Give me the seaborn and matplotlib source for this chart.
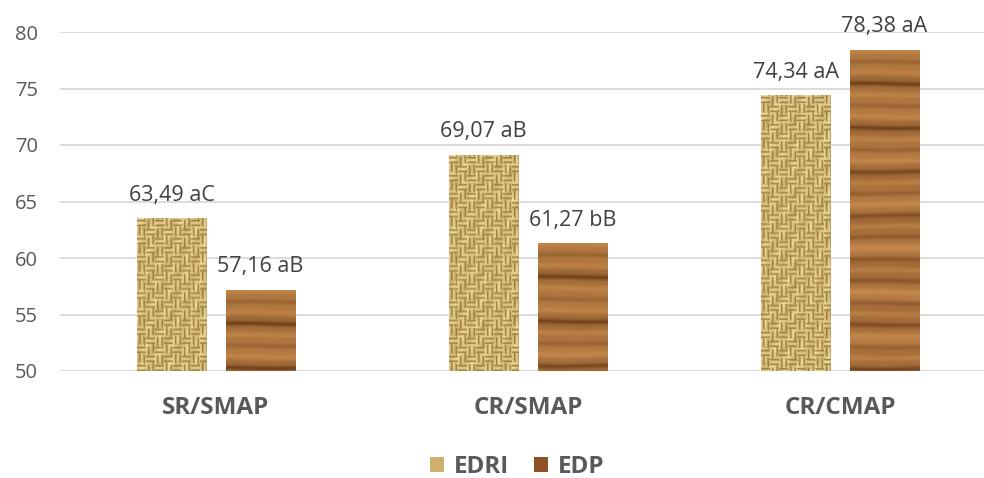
import numpy as np
import pandas as pd
import matplotlib
matplotlib.use("Agg")
import matplotlib.pyplot as plt
import seaborn as sns
from matplotlib.patches import Patch

# Data
categories = ["SR/SMAP", "CR/SMAP", "CR/CMAP"]
series = ["EDRI", "EDP"]
edri_values = [63.49, 69.07, 74.34]
edp_values = [57.16, 61.27, 78.38]
edri_labels = ["63,49 aC", "69,07 aB", "74,34 aA"]
edp_labels = ["57,16 aB", "61,27 bB", "78,38 aA"]
y_ticks = [50, 55, 60, 65, 70, 75, 80]

df = pd.DataFrame({
    "category": categories * 2,
    "series": [series[0]] * 3 + [series[1]] * 3,
    "value": edri_values + edp_values,
    "label": edri_labels + edp_labels,
})

sns.set_theme(style="white")
plt.rcParams["font.family"] = ["Open Sans", "DejaVu Sans"]

W, H = 984, 478
fig = plt.figure(figsize=(W / 100, H / 100), dpi=100)
ax = fig.add_axes([60 / W, 1 - 371 / H, 936 / W, (371 - 32) / H])

sns.barplot(data=df, x="category", y="value", hue="series", order=categories,
            hue_order=series, width=0.57, gap=0.214, palette=["#D9BF80", "#8E5226"],
            legend=False, ax=ax, linewidth=0)

ymin, ymax = 50, 80
ax.set_ylim(ymin, ymax)
ax.set_xlim(-0.5, 2.5)
ax.set_yticks(y_ticks)
ax.yaxis.grid(True, color="#D9D9D9", linewidth=1.3)
ax.set_axisbelow(True)
for s in ax.spines.values():
    s.set_visible(False)
ax.tick_params(axis="y", length=0, labelsize=14.5, labelcolor="#595959", pad=16)
ax.tick_params(axis="x", length=0, labelsize=17.5, labelcolor="#595959", pad=18)
for t in ax.get_xticklabels():
    t.set_fontweight("bold")
ax.set_xlabel("")
ax.set_ylabel("")


def burlap(nx, ny):
    yy, xx = np.mgrid[0:ny, 0:nx].astype(float)
    jitter = (np.sin(yy * 0.7 + 1.3) * 1.5).astype(int)
    bx = ((xx + jitter) // 9).astype(int)
    by = ((yy + np.sin(xx * 0.5) * 1.5) // 9).astype(int)
    block = (bx + by) % 2
    thread_h = 0.5 + 0.5 * np.cos(yy * 2 * np.pi / 4.5)
    thread_v = 0.5 + 0.5 * np.cos(xx * 2 * np.pi / 4.5)
    t = np.where(block == 0, thread_h, thread_v)
    shade = 0.84 + 0.16 * np.sin(xx * 0.37 + yy * 0.21) * np.cos(yy * 0.13 - xx * 0.09)
    light = np.array([240, 221, 158]) / 255
    dark = np.array([148, 112, 48]) / 255
    img = dark[None, None, :] + (light - dark)[None, None, :] * (t ** 0.45 * shade)[..., None]
    return np.clip(img, 0, 1)


def wood(nx, ny):
    yy, xx = np.mgrid[0:ny, 0:nx].astype(float)
    wave = yy + 0.6 * np.sin(xx * 0.05 + yy * 0.03)
    g = 0.5 + 0.5 * np.cos(wave * 2 * np.pi / 22.0)
    g2 = 0.5 + 0.5 * np.sin(wave * 2 * np.pi / 7.3 + 1.0)
    g3 = 0.5 + 0.5 * np.sin(wave * 2 * np.pi / 47.0 + 0.4)
    v = 0.55 * g + 0.15 * g2 + 0.30 * g3
    light = np.array([196, 136, 76]) / 255
    dark = np.array([100, 55, 20]) / 255
    img = dark[None, None, :] + (light - dark)[None, None, :] * (v ** 0.45)[..., None]
    return np.clip(img, 0, 1)


fig.canvas.draw()
bars = [p for p in ax.patches if p.get_height() > 0]
label_map = dict(zip(zip(df["series"], df["value"]), df["label"]))
for p in bars:
    x0 = p.get_x()
    w = p.get_width()
    top = p.get_y() + p.get_height()
    is_edri = p.get_facecolor()[0] > 0.8
    p.set_visible(False)
    (px0, py0), (px1, py1) = ax.transData.transform([(x0, ymin), (x0 + w, top)])
    nx, ny = max(int(round(px1 - px0)), 2), max(int(round(py1 - py0)), 2)
    tex = burlap(nx, ny) if is_edri else wood(nx, ny)
    ax.imshow(tex, extent=(x0, x0 + w, ymin, top), origin="upper",
              aspect="auto", interpolation="bilinear", zorder=2)
    lab = label_map[("EDRI" if is_edri else "EDP", round(top, 2))]
    ax.annotate(lab, (x0 + w / 2, top), xytext=(0, 13), textcoords="offset points",
                ha="center", va="baseline", fontsize=15.5, color="#404040",
                annotation_clip=False)

ax.set_xlim(-0.5, 2.5)
ax.set_ylim(ymin, ymax)

handles = [Patch(facecolor="#CDB06E", edgecolor="none"),
           Patch(facecolor="#8E5226", edgecolor="none")]
leg = fig.legend(handles, series, loc="center", bbox_to_anchor=(517 / W, 1 - 467 / H),
                 ncol=2, frameon=False, fontsize=17.5, handlelength=0.6, handleheight=0.6,
                 columnspacing=1.0, handletextpad=0.4)
for t in leg.get_texts():
    t.set_color("#595959")
    t.set_fontweight("bold")

fig.savefig("out.png", dpi=100)
